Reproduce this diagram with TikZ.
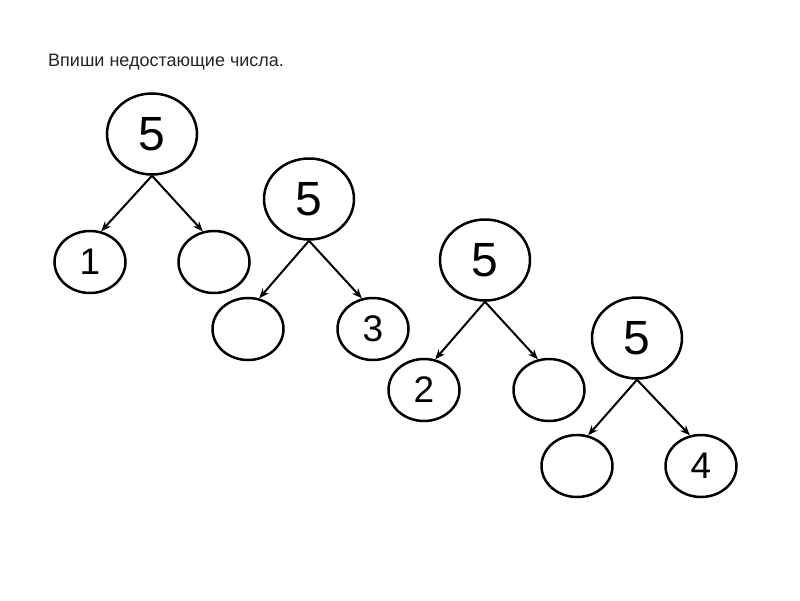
\documentclass[tikz,border=0pt]{standalone}
\usepackage{fontspec}
\setmainfont{Liberation Sans}
\usetikzlibrary{shapes.geometric,arrows.meta}
\begin{document}
\begin{tikzpicture}[x=1pt,y=-1pt,
  topnode/.style={ellipse,draw,line width=2.5pt,minimum width=90pt,minimum height=81pt,inner sep=0pt,font=\fontsize{48}{48}\selectfont},
  kidnode/.style={ellipse,draw,line width=2.5pt,minimum width=71pt,minimum height=62pt,inner sep=0pt,font=\fontsize{37}{37}\selectfont},
  link/.style={line width=2pt,-{Stealth[length=10pt,width=8pt]}}]
\useasboundingbox[fill=white] (0,0) rectangle (800,600);
\node[anchor=base west,inner sep=0pt,font=\fontsize{18}{18}\selectfont,text=black!85] (title) at (48,66) {Впиши недостающие числа.};
\foreach \i/\tx/\ty/\lx/\rx/\ky/\a/\b in {1/152/134/90/214/262/1/,2/309/199/248/373/329//3,3/485/260/424/549/390/2/,4/637/338/577/701/466//4}{
  \node[topnode] (t\i) at (\tx,\ty) {5};
  \node[kidnode] (l\i) at (\lx,\ky) {\a};
  \node[kidnode] (r\i) at (\rx,\ky) {\b};
  \draw[link] (t\i.south) -- (l\i.70);
  \draw[link] (t\i.south) -- (r\i.110);
}
\end{tikzpicture}
\end{document}
